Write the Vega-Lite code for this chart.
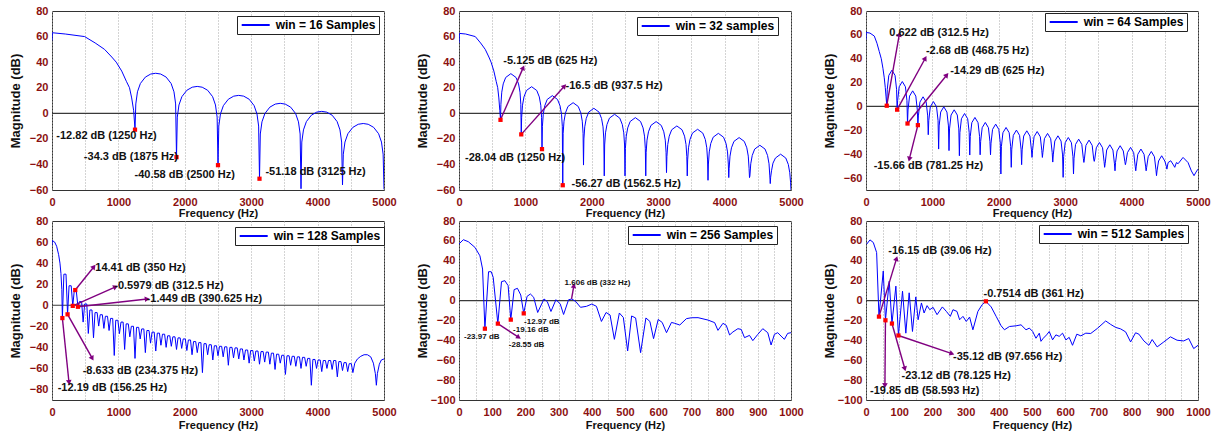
{
"$schema":"https://vega.github.io/schema/vega-lite/v6.json",
"background":"white",
"padding":{"left":8,"top":4,"right":2,"bottom":2},
"bounds":"flush",
"columns":3,
"spacing":{"row":31,"column":75},
"resolve":{"scale":{"x":"independent","y":"independent","color":"independent"},"legend":{"color":"independent"}},
"config":{
 "font":"Liberation Sans",
 "view":{"stroke":"#333333","strokeWidth":1},
 "axis":{"labelFont":"Liberation Sans","labelFontSize":11,"labelFontWeight":"bold","labelColor":"#8b1010","titleFont":"Liberation Sans","titleFontWeight":"bold","titleColor":"#111111","gridColor":"#a8a8a8","gridDash":[1,2],"gridWidth":1,"domain":false,"ticks":false,"labelPadding":4,"labelFlush":false,"labelOverlap":false},
 "axisX":{"titleFontSize":11,"labelPadding":6,"titlePadding":0},
 "axisY":{"titleFontSize":13,"minExtent":24,"maxExtent":24,"titlePadding":6}
},
"datasets":{
"p1":[{"f":0,"m":57},{"f":5,"m":63},{"f":200,"m":62},{"f":491,"m":60},{"f":650,"m":55},{"f":791,"m":50},{"f":900,"m":44},{"f":967,"m":40},{"f":1050,"m":33},{"f":1120,"m":25},{"f":1167,"m":20},{"f":1200,"m":12},{"f":1230,"m":2},{"f":1250,"m":-12.82},
{"f":1262,"m":7.3},{"f":1287,"m":16.8},{"f":1331,"m":23.3},{"f":1406,"m":28.3},{"f":1487,"m":30.7},{"f":1562,"m":31.3},{"f":1637,"m":30.7},{"f":1719,"m":28.3},{"f":1794,"m":23.3},{"f":1837,"m":16.8},{"f":1862,"m":7.3},{"f":1875,"m":-34.3},
{"f":1887,"m":-3},{"f":1912,"m":6.5},{"f":1956,"m":13},{"f":2031,"m":18},{"f":2112,"m":20.4},{"f":2187,"m":21},{"f":2262,"m":20.4},{"f":2344,"m":18},{"f":2419,"m":13},{"f":2462,"m":6.5},{"f":2487,"m":-3},{"f":2500,"m":-40.58},
{"f":2512,"m":-10},{"f":2537,"m":-0.5},{"f":2581,"m":6},{"f":2656,"m":11},{"f":2737,"m":13.4},{"f":2812,"m":14},{"f":2887,"m":13.4},{"f":2969,"m":11},{"f":3044,"m":6},{"f":3087,"m":-0.5},{"f":3112,"m":-10},{"f":3125,"m":-51.18},
{"f":3137,"m":-16.2},{"f":3162,"m":-6.7},{"f":3206,"m":-0.2},{"f":3281,"m":4.8},{"f":3362,"m":7.2},{"f":3437,"m":7.8},{"f":3512,"m":7.2},{"f":3594,"m":4.8},{"f":3669,"m":-0.2},{"f":3712,"m":-6.7},{"f":3737,"m":-16.2},{"f":3750,"m":-59},
{"f":3762,"m":-22.5},{"f":3787,"m":-13},{"f":3831,"m":-6.5},{"f":3906,"m":-1.5},{"f":3987,"m":0.9},{"f":4062,"m":1.5},{"f":4137,"m":0.9},{"f":4219,"m":-1.5},{"f":4294,"m":-6.5},{"f":4337,"m":-13},{"f":4362,"m":-22.5},{"f":4375,"m":-56},
{"f":4387,"m":-32},{"f":4412,"m":-22.5},{"f":4456,"m":-16},{"f":4531,"m":-11},{"f":4612,"m":-8.6},{"f":4687,"m":-8},{"f":4762,"m":-8.6},{"f":4844,"m":-11},{"f":4919,"m":-16},{"f":4962,"m":-22.5},{"f":4987,"m":-32},{"f":5000,"m":-59.5}],
"p2":[{"f":0,"m":55},{"f":5,"m":62.5},{"f":100,"m":62},{"f":245,"m":60},{"f":325,"m":55},{"f":395,"m":50},{"f":450,"m":44},{"f":483,"m":40},{"f":525,"m":33},{"f":560,"m":25},{"f":583,"m":20},{"f":600,"m":12},{"f":615,"m":2},{"f":625,"m":-5.125},
{"f":631,"m":7},{"f":644,"m":16.5},{"f":666,"m":23},{"f":703,"m":28},{"f":781,"m":31},{"f":859,"m":28},{"f":897,"m":23},{"f":919,"m":16.5},{"f":931,"m":7},{"f":937.5,"m":-16.5},
{"f":943.5,"m":-3.2},{"f":956.5,"m":6.3},{"f":978.5,"m":12.8},{"f":1015.5,"m":17.8},{"f":1093.5,"m":20.8},{"f":1171.5,"m":17.8},{"f":1209.5,"m":12.8},{"f":1231.5,"m":6.3},{"f":1243.5,"m":-3.2},{"f":1250,"m":-28.04},
{"f":1256,"m":-10.2},{"f":1269,"m":-0.7},{"f":1291,"m":5.8},{"f":1328,"m":10.8},{"f":1406,"m":13.8},{"f":1484,"m":10.8},{"f":1522,"m":5.8},{"f":1544,"m":-0.7},{"f":1556,"m":-10.2},{"f":1562.5,"m":-56.27},
{"f":1568.5,"m":-15.7},{"f":1581.5,"m":-6.2},{"f":1603.5,"m":0.3},{"f":1640.5,"m":5.3},{"f":1718.5,"m":8.3},{"f":1796.5,"m":5.3},{"f":1834.5,"m":0.3},{"f":1856.5,"m":-6.2},{"f":1868.5,"m":-15.7},{"f":1875,"m":-40.5},
{"f":1881,"m":-20.1},{"f":1894,"m":-10.6},{"f":1916,"m":-4.1},{"f":1953,"m":0.9},{"f":2031,"m":3.9},{"f":2109,"m":0.9},{"f":2147,"m":-4.1},{"f":2169,"m":-10.6},{"f":2181,"m":-20.1},{"f":2187.5,"m":-49},
{"f":2193.5,"m":-24.8},{"f":2206.5,"m":-15.3},{"f":2228.5,"m":-8.8},{"f":2265.5,"m":-3.8},{"f":2343.5,"m":-0.8},{"f":2421.5,"m":-3.8},{"f":2459.5,"m":-8.8},{"f":2481.5,"m":-15.3},{"f":2493.5,"m":-24.8},{"f":2500,"m":-49},
{"f":2506,"m":-27.4},{"f":2519,"m":-17.9},{"f":2541,"m":-11.4},{"f":2578,"m":-6.4},{"f":2656,"m":-3.4},{"f":2734,"m":-6.4},{"f":2772,"m":-11.4},{"f":2794,"m":-17.9},{"f":2806,"m":-27.4},{"f":2812.5,"m":-49},
{"f":2818.5,"m":-30.5},{"f":2831.5,"m":-21},{"f":2853.5,"m":-14.5},{"f":2890.5,"m":-9.5},{"f":2968.5,"m":-6.5},{"f":3046.5,"m":-9.5},{"f":3084.5,"m":-14.5},{"f":3106.5,"m":-21},{"f":3118.5,"m":-30.5},{"f":3125,"m":-46.4},
{"f":3131,"m":-33.9},{"f":3144,"m":-24.4},{"f":3166,"m":-17.9},{"f":3203,"m":-12.9},{"f":3281,"m":-9.9},{"f":3359,"m":-12.9},{"f":3397,"m":-17.9},{"f":3419,"m":-24.4},{"f":3431,"m":-33.9},{"f":3437.5,"m":-49},
{"f":3443.5,"m":-36.5},{"f":3456.5,"m":-27},{"f":3478.5,"m":-20.5},{"f":3515.5,"m":-15.5},{"f":3593.5,"m":-12.5},{"f":3671.5,"m":-15.5},{"f":3709.5,"m":-20.5},{"f":3731.5,"m":-27},{"f":3743.5,"m":-36.5},{"f":3750,"m":-52.4},
{"f":3756,"m":-39.7},{"f":3769,"m":-30.2},{"f":3791,"m":-23.7},{"f":3828,"m":-18.7},{"f":3906,"m":-15.7},{"f":3984,"m":-18.7},{"f":4022,"m":-23.7},{"f":4044,"m":-30.2},{"f":4056,"m":-39.7},{"f":4062.5,"m":-50.3},
{"f":4068.5,"m":-43},{"f":4081.5,"m":-33.5},{"f":4103.5,"m":-27},{"f":4140.5,"m":-22},{"f":4218.5,"m":-19},{"f":4296.5,"m":-22},{"f":4334.5,"m":-27},{"f":4356.5,"m":-33.5},{"f":4368.5,"m":-43},{"f":4375,"m":-50.3},
{"f":4381,"m":-49},{"f":4394,"m":-39.5},{"f":4416,"m":-33},{"f":4453,"m":-28},{"f":4531,"m":-25},{"f":4609,"m":-28},{"f":4647,"m":-33},{"f":4669,"m":-39.5},{"f":4681,"m":-49},{"f":4687.5,"m":-55},
{"f":4693.5,"m":-50},{"f":4706.5,"m":-45},{"f":4728.5,"m":-39},{"f":4765.5,"m":-35},{"f":4843.5,"m":-32},{"f":4921.5,"m":-35},{"f":4959.5,"m":-40},{"f":4981.5,"m":-46.5},{"f":4993.5,"m":-54},{"f":5000,"m":-60}],
"p3":[{"f":0,"m":56},{"f":3,"m":62},{"f":60,"m":61.5},{"f":125,"m":59},{"f":165,"m":53},{"f":200,"m":46},{"f":230,"m":40},{"f":255,"m":32},{"f":275,"m":24},{"f":290,"m":16},{"f":302,"m":8},{"f":312.5,"m":0.622},
{"f":320.5,"m":14.4},{"f":343.5,"m":26},{"f":390.5,"m":30.4},{"f":437.5,"m":26},{"f":460.5,"m":14.4},{"f":468.75,"m":-2.68},
{"f":476.75,"m":4.9},{"f":499.75,"m":16.5},{"f":546.75,"m":20.9},{"f":593.75,"m":16.5},{"f":616.75,"m":4.9},{"f":625,"m":-14.29},
{"f":633,"m":-2.9},{"f":656,"m":8.7},{"f":703,"m":13.1},{"f":750,"m":8.7},{"f":773,"m":-2.9},{"f":781.25,"m":-15.66},
{"f":789.25,"m":-7.9},{"f":812.25,"m":3.7},{"f":859.25,"m":8.1},{"f":906.25,"m":3.7},{"f":929.25,"m":-7.9},{"f":937.5,"m":-23.7},
{"f":945.5,"m":-11.9},{"f":968.5,"m":-0.3},{"f":1015.5,"m":4.1},{"f":1062.5,"m":-0.3},{"f":1085.5,"m":-11.9},{"f":1093.75,"m":-35.7},
{"f":1101.75,"m":-16.3},{"f":1124.75,"m":-4.7},{"f":1171.75,"m":-0.3},{"f":1218.75,"m":-4.7},{"f":1241.75,"m":-16.3},{"f":1250,"m":-37},
{"f":1258,"m":-18.8},{"f":1281,"m":-7.2},{"f":1328,"m":-2.8},{"f":1375,"m":-7.2},{"f":1398,"m":-18.8},{"f":1406.25,"m":-41.3},
{"f":1414.25,"m":-21.9},{"f":1437.25,"m":-10.3},{"f":1484.25,"m":-5.9},{"f":1531.25,"m":-10.3},{"f":1554.25,"m":-21.9},{"f":1562.5,"m":-40.7},
{"f":1570.5,"m":-25.2},{"f":1593.5,"m":-13.6},{"f":1640.5,"m":-9.2},{"f":1687.5,"m":-13.6},{"f":1710.5,"m":-25.2},{"f":1718.75,"m":-40.5},
{"f":1726.75,"m":-29.4},{"f":1749.75,"m":-17.8},{"f":1796.75,"m":-13.4},{"f":1843.75,"m":-17.8},{"f":1866.75,"m":-29.4},{"f":1875,"m":-40.5},
{"f":1883,"m":-30.8},{"f":1906,"m":-19.2},{"f":1953,"m":-14.8},{"f":2000,"m":-19.2},{"f":2023,"m":-30.8},{"f":2031.25,"m":-56.6},
{"f":2039.25,"m":-33.6},{"f":2062.25,"m":-22},{"f":2109.25,"m":-17.6},{"f":2156.25,"m":-22},{"f":2179.25,"m":-33.6},{"f":2187.5,"m":-51},
{"f":2195.5,"m":-35.8},{"f":2218.5,"m":-24.2},{"f":2265.5,"m":-19.8},{"f":2312.5,"m":-24.2},{"f":2335.5,"m":-35.8},{"f":2343.75,"m":-48.8},
{"f":2351.75,"m":-36.4},{"f":2374.75,"m":-24.8},{"f":2421.75,"m":-20.4},{"f":2468.75,"m":-24.8},{"f":2491.75,"m":-36.4},{"f":2500,"m":-42.7},
{"f":2508,"m":-37},{"f":2531,"m":-25.4},{"f":2578,"m":-21},{"f":2625,"m":-25.4},{"f":2648,"m":-37},{"f":2656.25,"m":-42.7},
{"f":2664.25,"m":-38.6},{"f":2687.25,"m":-27},{"f":2734.25,"m":-22.6},{"f":2781.25,"m":-27},{"f":2804.25,"m":-38.6},{"f":2812.5,"m":-46.6},
{"f":2820.5,"m":-40.6},{"f":2843.5,"m":-29},{"f":2890.5,"m":-24.6},{"f":2937.5,"m":-29},{"f":2960.5,"m":-40.6},{"f":2968.75,"m":-59.4},
{"f":2976.75,"m":-42},{"f":2999.75,"m":-30.4},{"f":3046.75,"m":-26},{"f":3093.75,"m":-30.4},{"f":3116.75,"m":-42},{"f":3125,"m":-56.6},
{"f":3133,"m":-43.4},{"f":3156,"m":-31.8},{"f":3203,"m":-27.4},{"f":3250,"m":-31.8},{"f":3273,"m":-43.4},{"f":3281.25,"m":-46.9},
{"f":3289.25,"m":-44},{"f":3312.25,"m":-32.6},{"f":3359.25,"m":-28.2},{"f":3406.25,"m":-32.6},{"f":3429.25,"m":-44},{"f":3437.5,"m":-46},
{"f":3445.5,"m":-44},{"f":3468.5,"m":-34.6},{"f":3515.5,"m":-30.2},{"f":3562.5,"m":-34.6},{"f":3585.5,"m":-46.2},{"f":3593.75,"m":-51},
{"f":3601.75,"m":-48},{"f":3624.75,"m":-36.5},{"f":3671.75,"m":-32.1},{"f":3718.75,"m":-36.5},{"f":3741.75,"m":-48},{"f":3750,"m":-53.9},
{"f":3758,"m":-47},{"f":3781,"m":-37.3},{"f":3828,"m":-32.9},{"f":3875,"m":-37.3},{"f":3898,"m":-46},{"f":3906.25,"m":-48.8},
{"f":3914.25,"m":-47},{"f":3937.25,"m":-38.7},{"f":3984.25,"m":-34.3},{"f":4031.25,"m":-38.7},{"f":4054.25,"m":-50},{"f":4062.5,"m":-53.9},
{"f":4070.5,"m":-50},{"f":4093.5,"m":-40.1},{"f":4140.5,"m":-35.7},{"f":4187.5,"m":-40.1},{"f":4210.5,"m":-50},{"f":4218.75,"m":-53.9},
{"f":4226.75,"m":-51},{"f":4249.75,"m":-42.1},{"f":4296.75,"m":-37.7},{"f":4343.75,"m":-42.1},{"f":4366.75,"m":-53},{"f":4375,"m":-58},
{"f":4383,"m":-54},{"f":4406,"m":-45.7},{"f":4453,"m":-41.3},{"f":4500,"m":-45.7},{"f":4523,"m":-50},{"f":4531.25,"m":-52.5},
{"f":4550,"m":-47},{"f":4590,"m":-45.5},{"f":4630,"m":-49},{"f":4650,"m":-51},{"f":4675,"m":-47},{"f":4700,"m":-48},{"f":4775,"m":-42.7},{"f":4850,"m":-47},{"f":4900,"m":-54},{"f":4940,"m":-58},{"f":4970,"m":-55},{"f":5000,"m":-52.5}],
"p4":[{"f":0,"m":57},{"f":3,"m":61.5},{"f":40,"m":60},{"f":70,"m":56},{"f":100,"m":48},{"f":120,"m":40},{"f":135,"m":30},{"f":148,"m":15},{"f":156.25,"m":-12.19},
{"f":179,"m":29.5},{"f":211,"m":29.5},{"f":234.375,"m":-8.633},
{"f":257,"m":18.5},{"f":289,"m":18.5},{"f":312.5,"m":-0.5979},
{"f":335,"m":13.5},{"f":350,"m":14.41},{"f":367,"m":13},{"f":390.625,"m":-1.449},
{"f":414,"m":3.5},{"f":446,"m":3.5},{"f":468.75,"m":-16},
{"f":492,"m":1.2},{"f":524,"m":1.2},{"f":546.875,"m":-26.8},
{"f":570,"m":-4.5},{"f":602,"m":-4.5},{"f":625,"m":-30.9},
{"f":648,"m":-7},{"f":680,"m":-7},{"f":703.125,"m":-19.8},
{"f":726,"m":-9},{"f":758,"m":-9},{"f":781.25,"m":-22},
{"f":804,"m":-10.5},{"f":836,"m":-10.5},{"f":859.375,"m":-24},
{"f":882,"m":-12.5},{"f":914,"m":-12.5},{"f":937.5,"m":-47.7},
{"f":960,"m":-14.3},{"f":992,"m":-14.3},{"f":1015.6,"m":-27},
{"f":1039,"m":-16},{"f":1071,"m":-16},{"f":1093.75,"m":-42},
{"f":1117,"m":-17.7},{"f":1149,"m":-17.7},{"f":1171.9,"m":-30},
{"f":1195,"m":-20},{"f":1227,"m":-20},{"f":1250,"m":-50.5},
{"f":1273,"m":-21},{"f":1305,"m":-21},{"f":1328,"m":-32},
{"f":1351,"m":-22.5},{"f":1383,"m":-22.5},{"f":1406,"m":-45},
{"f":1429,"m":-24},{"f":1461,"m":-24},{"f":1484,"m":-36},
{"f":1507,"m":-25.5},{"f":1539,"m":-25.5},{"f":1562.5,"m":-43.5},
{"f":1586,"m":-26.5},{"f":1618,"m":-26.5},{"f":1640.6,"m":-38},
{"f":1664,"m":-27.5},{"f":1696,"m":-27.5},{"f":1718.75,"m":-40},
{"f":1742,"m":-29},{"f":1774,"m":-29},{"f":1796.9,"m":-39},
{"f":1820,"m":-30},{"f":1852,"m":-30},{"f":1875,"m":-42},
{"f":1898,"m":-31},{"f":1930,"m":-31},{"f":1953,"m":-41},
{"f":1976,"m":-32},{"f":2008,"m":-32},{"f":2031,"m":-43},
{"f":2054,"m":-33},{"f":2086,"m":-33},{"f":2109,"m":-47},
{"f":2132,"m":-34.5},{"f":2164,"m":-34.5},{"f":2187.5,"m":-45},
{"f":2211,"m":-35.5},{"f":2243,"m":-35.5},{"f":2265.6,"m":-64},
{"f":2289,"m":-36.5},{"f":2321,"m":-36.5},{"f":2343.75,"m":-47},
{"f":2367,"m":-37.5},{"f":2399,"m":-37.5},{"f":2421.9,"m":-52},
{"f":2445,"m":-38.5},{"f":2477,"m":-38.5},{"f":2500,"m":-48},
{"f":2523,"m":-39},{"f":2555,"m":-39},{"f":2578,"m":-49},
{"f":2601,"m":-39.5},{"f":2633,"m":-39.5},{"f":2656,"m":-57},
{"f":2679,"m":-40},{"f":2711,"m":-40},{"f":2734,"m":-50},
{"f":2757,"m":-40.5},{"f":2789,"m":-40.5},{"f":2812.5,"m":-51},
{"f":2836,"m":-41.5},{"f":2868,"m":-41.5},{"f":2890.6,"m":-52},
{"f":2914,"m":-42.5},{"f":2946,"m":-42.5},{"f":2968.75,"m":-55},
{"f":2992,"m":-43},{"f":3024,"m":-43},{"f":3047,"m":-53},
{"f":3070,"m":-43.5},{"f":3102,"m":-43.5},{"f":3125,"m":-56},
{"f":3148,"m":-44},{"f":3180,"m":-44},{"f":3203,"m":-54},
{"f":3226,"m":-44.5},{"f":3258,"m":-44.5},{"f":3281,"m":-56},
{"f":3304,"m":-45.5},{"f":3336,"m":-45.5},{"f":3359,"m":-61},
{"f":3382,"m":-46.5},{"f":3414,"m":-46.5},{"f":3437.5,"m":-55},
{"f":3461,"m":-47.5},{"f":3493,"m":-47.5},{"f":3515.6,"m":-65.7},
{"f":3539,"m":-48},{"f":3571,"m":-48},{"f":3593.75,"m":-57},
{"f":3617,"m":-48.5},{"f":3649,"m":-48.5},{"f":3671.9,"m":-58},
{"f":3695,"m":-49},{"f":3727,"m":-49},{"f":3750,"m":-60},
{"f":3773,"m":-49.5},{"f":3805,"m":-49.5},{"f":3828,"m":-58},
{"f":3851,"m":-50.5},{"f":3883,"m":-50.5},{"f":3906,"m":-76},
{"f":3929,"m":-51.5},{"f":3961,"m":-51.5},{"f":3984,"m":-60},
{"f":4007,"m":-52},{"f":4039,"m":-52},{"f":4062.5,"m":-63},
{"f":4086,"m":-52.5},{"f":4118,"m":-52.5},{"f":4140.6,"m":-60},
{"f":4164,"m":-52.5},{"f":4196,"m":-52.5},{"f":4218.75,"m":-61},
{"f":4242,"m":-52.5},{"f":4274,"m":-52.5},{"f":4296.9,"m":-68},
{"f":4320,"m":-53.5},{"f":4352,"m":-53.5},{"f":4375,"m":-62},
{"f":4398,"m":-54.5},{"f":4430,"m":-54.5},{"f":4453,"m":-63},
{"f":4476,"m":-55.5},{"f":4508,"m":-55.5},{"f":4531.25,"m":-64},
{"f":4560,"m":-55},{"f":4600,"m":-51},{"f":4650,"m":-48.5},{"f":4700,"m":-47},{"f":4750,"m":-47},{"f":4800,"m":-49},{"f":4840,"m":-55},{"f":4870,"m":-65},{"f":4885,"m":-76},{"f":4900,"m":-65},{"f":4930,"m":-56},{"f":4960,"m":-52},{"f":5000,"m":-51}],
"p5":[{"f":0,"m":56.9},{"f":13,"m":61.2},{"f":28,"m":59.2},{"f":48,"m":53.5},{"f":63,"m":45},{"f":71,"m":31.7},{"f":78,"m":-28.3},{"f":89,"m":29},{"f":97,"m":29},{"f":103,"m":23.4},{"f":117,"m":-23.2},{"f":128,"m":19},{"f":138,"m":20},{"f":148,"m":15},{"f":156,"m":-19.2},{"f":166,"m":11},{"f":176,"m":12.3},{"f":186,"m":5.6},{"f":195,"m":-12.9},{"f":205,"m":4.2},{"f":215,"m":6.6},{"f":225,"m":3.3},{"f":237,"m":-12},{"f":256,"m":1.6},{"f":266,"m":-1.1},{"f":277,"m":-11},{"f":292,"m":0.9},{"f":305,"m":-3.5},{"f":315,"m":-14},{"f":330,"m":0.8},{"f":340,"m":1.6},{"f":352,"m":-1.1},{"f":366,"m":-6.8},{"f":384,"m":-5.8},{"f":400,"m":-3.5},{"f":414,"m":-5.8},{"f":429,"m":-21},{"f":443,"m":-12},{"f":455,"m":-14.5},{"f":468,"m":-39},{"f":483,"m":-12.5},{"f":495,"m":-17},{"f":508,"m":-50.7},{"f":520,"m":-15.5},{"f":532,"m":-17.5},{"f":547,"m":-52.4},{"f":563,"m":-17.5},{"f":575,"m":-21},{"f":586,"m":-38.3},{"f":600,"m":-19},{"f":612,"m":-22},{"f":625,"m":-32.3},{"f":640,"m":-22},{"f":650,"m":-22.9},{"f":665,"m":-24.6},{"f":685,"m":-18.2},{"f":700,"m":-17.3},{"f":720,"m":-17.2},{"f":750,"m":-19.6},{"f":770,"m":-22.2},{"f":780,"m":-30},{"f":795,"m":-22.9},{"f":805,"m":-24.9},{"f":815,"m":-34.6},{"f":825,"m":-31.6},{"f":840,"m":-28.3},{"f":850,"m":-29},{"f":860,"m":-37.3},{"f":875,"m":-35},{"f":885,"m":-40.3},{"f":900,"m":-34},{"f":915,"m":-28.3},{"f":930,"m":-32.3},{"f":940,"m":-44.7},{"f":950,"m":-34},{"f":960,"m":-32.3},{"f":970,"m":-35.7},{"f":980,"m":-39},{"f":990,"m":-33},{"f":1000,"m":-32.3}],
"p6":[{"f":2,"m":56.7},{"f":12,"m":61},{"f":22,"m":58.4},{"f":32,"m":48.3},{"f":39.06,"m":-16.15},{"f":52,"m":29.7},{"f":58.593,"m":-19.85},{"f":70,"m":19.5},{"f":78.125,"m":-23.12},{"f":90,"m":14.5},{"f":97.656,"m":-35.12},{"f":110,"m":9.4},{"f":120,"m":-32.8},{"f":130,"m":7.8},{"f":140,"m":-31.1},{"f":150,"m":3.7},{"f":157,"m":-19.3},{"f":167,"m":-2.4},{"f":175,"m":-12.5},{"f":184,"m":-5.1},{"f":192,"m":-9.2},{"f":202,"m":-6.8},{"f":214,"m":-14.2},{"f":230,"m":-6.4},{"f":242,"m":-10.9},{"f":254,"m":-15.9},{"f":262,"m":-9.2},{"f":274,"m":-10.9},{"f":282,"m":-19.3},{"f":292,"m":-15.9},{"f":302,"m":-21},{"f":312,"m":-16.6},{"f":322,"m":-29.4},{"f":337,"m":-10.9},{"f":350,"m":-4.1},{"f":361,"m":-0.7514},{"f":377,"m":-6.4},{"f":392,"m":-15.9},{"f":407,"m":-25.4},{"f":417,"m":-29.4},{"f":432,"m":-26.1},{"f":452,"m":-25.4},{"f":467,"m":-24.4},{"f":482,"m":-29.4},{"f":492,"m":-27.7},{"f":502,"m":-31.1},{"f":512,"m":-37.9},{"f":522,"m":-32.8},{"f":527,"m":-41},{"f":534,"m":-37.9},{"f":544,"m":-34.5},{"f":552,"m":-31.1},{"f":562,"m":-39.5},{"f":572,"m":-34.5},{"f":582,"m":-36},{"f":592,"m":-32.8},{"f":602,"m":-39.6},{"f":612,"m":-37},{"f":622,"m":-45},{"f":635,"m":-33.8},{"f":647,"m":-35.5},{"f":662,"m":-32.8},{"f":677,"m":-33.1},{"f":697,"m":-28},{"f":722,"m":-20.5},{"f":737,"m":-24},{"f":752,"m":-27},{"f":767,"m":-28.5},{"f":782,"m":-31.5},{"f":797,"m":-41.6},{"f":812,"m":-32.4},{"f":822,"m":-33.8},{"f":837,"m":-40.6},{"f":852,"m":-45},{"f":862,"m":-39.2},{"f":877,"m":-46.6},{"f":897,"m":-41.6},{"f":917,"m":-36.5},{"f":937,"m":-39.9},{"f":957,"m":-40.6},{"f":972,"m":-38.2},{"f":987,"m":-48.3},{"f":1000,"m":-45}],
"d1":[{"f":1250,"m":-12.82},{"f":1875,"m":-34.3},{"f":2500,"m":-40.58},{"f":3125,"m":-51.18}],
"t1":[{"f":65,"m":-17.8,"t":"-12.82 dB (1250 Hz)"},{"f":480,"m":-34,"t":"-34.3 dB (1875 Hz)"},{"f":1243,"m":-48.3,"t":"-40.58 dB (2500 Hz)"},{"f":3214,"m":-45.7,"t":"-51.18 dB (3125 Hz)"}],
"d2":[{"f":625,"m":-5.125},{"f":937.5,"m":-16.5},{"f":1250,"m":-28.04},{"f":1562.5,"m":-56.27}],
"t2":[{"f":667,"m":40.9,"t":"-5.125 dB (625 Hz)"},{"f":1604,"m":21.3,"t":"-16.5 dB (937.5 Hz)"},{"f":90,"m":-34.7,"t":"-28.04 dB (1250 Hz)"},{"f":1694,"m":-55,"t":"-56.27 dB (1562.5 Hz)"}],
"a2":[{"f":625,"m":-5.125,"f2":967,"m2":35.7},{"f":937.5,"m":-16.5,"f2":1589,"m2":21.3}],
"d3":[{"f":312.5,"m":0.622},{"f":468.75,"m":-2.68},{"f":625,"m":-14.29},{"f":781.25,"m":-15.66}],
"t3":[{"f":351,"m":61.3,"t":"0.622 dB (312.5 Hz)"},{"f":902,"m":46.5,"t":"-2.68 dB (468.75 Hz)"},{"f":1268,"m":29.8,"t":"-14.29 dB (625 Hz)"},{"f":116,"m":-49.7,"t":"-15.66 dB (781.25 Hz)"}],
"a3":[{"f":312.5,"m":0.622,"f2":502,"m2":60.5},{"f":468.75,"m":-2.68,"f2":893,"m2":40.4},{"f":625,"m":-14.29,"f2":1217,"m2":26.4},{"f":781.25,"m":-15.66,"f2":652,"m2":-44.1}],
"d4":[{"f":156.25,"m":-12.19},{"f":234.375,"m":-8.633},{"f":312.5,"m":-0.5979},{"f":350,"m":14.41},{"f":390.625,"m":-1.449}],
"t4":[{"f":652,"m":35.6,"t":"14.41 dB (350 Hz)"},{"f":938,"m":18.2,"t":"-0.5979 dB (312.5 Hz)"},{"f":1425,"m":5.6,"t":"-1.449 dB (390.625 Hz)"},{"f":462,"m":-62,"t":"-8.633 dB (234.375 Hz)"},{"f":86,"m":-78.5,"t":"-12.19 dB (156.25 Hz)"}],
"a4":[{"f":350,"m":14.41,"f2":632,"m2":36.6},{"f":312.5,"m":-0.5979,"f2":958,"m2":17.5},{"f":390.625,"m":-1.449,"f2":1434,"m2":5.9},{"f":234.375,"m":-8.633,"f2":607,"m2":-50.5},{"f":156.25,"m":-12.19,"f2":256,"m2":-73.4}],
"d5":[{"f":78,"m":-28.3},{"f":117,"m":-23.2},{"f":156,"m":-19.2},{"f":195,"m":-12.9}],
"t5":[{"f":15,"m":-37,"t":"-23.97 dB"},{"f":150,"m":-44.7,"t":"-28.55 dB"},{"f":163,"m":-29.5,"t":"-19.16 dB"},{"f":196,"m":-21.4,"t":"-12.97 dB"},{"f":318,"m":17.3,"t":"1.606 dB (332 Hz)"}],
"a5":[{"f":117,"m":-23.2,"f2":180,"m2":-37},{"f":339,"m":1.6,"f2":346,"m2":15}],
"d6":[{"f":39.06,"m":-16.15},{"f":58.593,"m":-19.85},{"f":78.125,"m":-23.12},{"f":97.656,"m":-35.12},{"f":361,"m":-0.7514}],
"t6":[{"f":67,"m":50.3,"t":"-16.15 dB (39.06 Hz)"},{"f":354,"m":6.4,"t":"-0.7514 dB (361 Hz)"},{"f":262,"m":-56.8,"t":"-35.12 dB (97.656 Hz)"},{"f":107,"m":-76.3,"t":"-23.12 dB (78.125 Hz)"},{"f":12,"m":-90.5,"t":"-19.85 dB (58.593 Hz)"}],
"a6":[{"f":39.06,"m":-16.15,"f2":92,"m2":42.2},{"f":58.593,"m":-19.85,"f2":57,"m2":-85.5},{"f":78.125,"m":-23.12,"f2":117,"m2":-68.6},{"f":97.656,"m":-35.12,"f2":259,"m2":-53.4}]
},
"concat":[
{"width":332,"height":179,"layer":[
 {"data":{"values":[{}]},"mark":{"type":"rule","color":"#3a3a3a","strokeWidth":1.2},"encoding":{"y":{"datum":0,"type":"quantitative"}}},
 {"data":{"name":"p1"},"mark":{"type":"line","strokeWidth":1,"clip":true},"encoding":{
  "x":{"field":"f","type":"quantitative","title":"Frequency (Hz)","scale":{"domain":[0,5000],"nice":false,"zero":false},"axis":{"values":[0,500,1000,1500,2000,2500,3000,3500,4000,4500,5000],"tickCount":100,"format":"d","labelOverlap":false,"labelExpr":"datum.value % 1000 === 0 ? datum.label : ''"}},
  "y":{"field":"m","type":"quantitative","title":"Magnitude (dB)","scale":{"domain":[-60,80],"nice":false,"zero":false},"axis":{"values":[-60,-50,-40,-30,-20,-10,0,10,20,30,40,50,60,70,80],"tickCount":100,"format":"d","labelOverlap":false,"labelExpr":"datum.value % 20 === 0 ? datum.label : ''"}},
  "color":{"datum":"win = 16 Samples","type":"nominal","scale":{"range":["#0000ff"]},"legend":{"title":null,"orient":"none","legendX":185,"legendY":5,"symbolType":"M-4,0H4","symbolSize":49,"symbolStrokeWidth":2,"symbolOffset":9.7,"labelOffset":14,"labelFontSize":12,"labelFontWeight":"bold","labelFont":"Liberation Sans","labelColor":"black","fillColor":"white","strokeColor":"#222222","padding":3,"labelLimit":400}}}},
 {"data":{"name":"d1"},"mark":{"type":"point","shape":"square","filled":true,"color":"#ff0000","size":18,"opacity":1},"encoding":{"x":{"field":"f","type":"quantitative","title":"Frequency (Hz)"},"y":{"field":"m","type":"quantitative","title":"Magnitude (dB)"}}},
 {"data":{"name":"t1"},"mark":{"type":"text","align":"left","baseline":"middle","fontWeight":"bold","fontSize":11,"font":"Liberation Sans","color":"#111111"},"encoding":{"x":{"field":"f","type":"quantitative","title":"Frequency (Hz)"},"y":{"field":"m","type":"quantitative","title":"Magnitude (dB)"},"text":{"field":"t"}}}
]},
{"width":332,"height":179,"layer":[
 {"data":{"values":[{}]},"mark":{"type":"rule","color":"#3a3a3a","strokeWidth":1.2},"encoding":{"y":{"datum":0,"type":"quantitative"}}},
 {"data":{"name":"p2"},"mark":{"type":"line","strokeWidth":1,"clip":true},"encoding":{
  "x":{"field":"f","type":"quantitative","title":"Frequency (Hz)","scale":{"domain":[0,5000],"nice":false,"zero":false},"axis":{"values":[0,500,1000,1500,2000,2500,3000,3500,4000,4500,5000],"tickCount":100,"format":"d","labelOverlap":false,"labelExpr":"datum.value % 1000 === 0 ? datum.label : ''"}},
  "y":{"field":"m","type":"quantitative","title":"Magnitude (dB)","scale":{"domain":[-60,80],"nice":false,"zero":false},"axis":{"values":[-60,-50,-40,-30,-20,-10,0,10,20,30,40,50,60,70,80],"tickCount":100,"format":"d","labelOverlap":false,"labelExpr":"datum.value % 20 === 0 ? datum.label : ''"}},
  "color":{"datum":"win = 32 samples","type":"nominal","scale":{"range":["#0000ff"]},"legend":{"title":null,"orient":"none","legendX":178,"legendY":6,"symbolType":"M-4,0H4","symbolSize":49,"symbolStrokeWidth":2,"symbolOffset":9.7,"labelOffset":14,"labelFontSize":12,"labelFontWeight":"bold","labelFont":"Liberation Sans","labelColor":"black","fillColor":"white","strokeColor":"#222222","padding":3,"labelLimit":400}}}},
 {"data":{"name":"a2"},"mark":{"type":"rule","color":"#800080","strokeWidth":1.4},"encoding":{"x":{"field":"f","type":"quantitative","title":"Frequency (Hz)"},"y":{"field":"m","type":"quantitative","title":"Magnitude (dB)"},"x2":{"field":"f2"},"y2":{"field":"m2"}}},
 {"data":{"name":"a2"},"transform":[{"calculate":"atan2((datum.f2-datum.f)*0.06646,(datum.m2-datum.m)*1.2786)*180/PI","as":"ang"}],"mark":{"type":"point","shape":"triangle-up","filled":true,"color":"#800080","size":32,"opacity":1},"encoding":{"x":{"field":"f2","type":"quantitative","title":"Frequency (Hz)"},"y":{"field":"m2","type":"quantitative","title":"Magnitude (dB)"},"angle":{"field":"ang","type":"quantitative","scale":null}}},
 {"data":{"name":"d2"},"mark":{"type":"point","shape":"square","filled":true,"color":"#ff0000","size":18,"opacity":1},"encoding":{"x":{"field":"f","type":"quantitative","title":"Frequency (Hz)"},"y":{"field":"m","type":"quantitative","title":"Magnitude (dB)"}}},
 {"data":{"name":"t2"},"mark":{"type":"text","align":"left","baseline":"middle","fontWeight":"bold","fontSize":11,"font":"Liberation Sans","color":"#111111"},"encoding":{"x":{"field":"f","type":"quantitative","title":"Frequency (Hz)"},"y":{"field":"m","type":"quantitative","title":"Magnitude (dB)"},"text":{"field":"t"}}}
]},
{"width":332,"height":179,"layer":[
 {"data":{"values":[{}]},"mark":{"type":"rule","color":"#3a3a3a","strokeWidth":1.2},"encoding":{"y":{"datum":0,"type":"quantitative"}}},
 {"data":{"name":"p3"},"mark":{"type":"line","strokeWidth":1,"clip":true},"encoding":{
  "x":{"field":"f","type":"quantitative","title":"Frequency (Hz)","scale":{"domain":[0,5000],"nice":false,"zero":false},"axis":{"values":[0,500,1000,1500,2000,2500,3000,3500,4000,4500,5000],"tickCount":100,"format":"d","labelOverlap":false,"labelExpr":"datum.value % 1000 === 0 ? datum.label : ''"}},
  "y":{"field":"m","type":"quantitative","title":"Magnitude (dB)","scale":{"domain":[-70,80],"nice":false,"zero":false},"axis":{"values":[-70,-60,-50,-40,-30,-20,-10,0,10,20,30,40,50,60,70,80],"tickCount":100,"format":"d","labelOverlap":false,"labelExpr":"datum.value % 20 === 0 ? datum.label : ''"}},
  "color":{"datum":"win = 64 Samples","type":"nominal","scale":{"range":["#0000ff"]},"legend":{"title":null,"orient":"none","legendX":179,"legendY":2,"symbolType":"M-4,0H4","symbolSize":49,"symbolStrokeWidth":2,"symbolOffset":9.7,"labelOffset":14,"labelFontSize":12,"labelFontWeight":"bold","labelFont":"Liberation Sans","labelColor":"black","fillColor":"white","strokeColor":"#222222","padding":3,"labelLimit":400}}}},
 {"data":{"name":"a3"},"mark":{"type":"rule","color":"#800080","strokeWidth":1.4},"encoding":{"x":{"field":"f","type":"quantitative","title":"Frequency (Hz)"},"y":{"field":"m","type":"quantitative","title":"Magnitude (dB)"},"x2":{"field":"f2"},"y2":{"field":"m2"}}},
 {"data":{"name":"a3"},"transform":[{"calculate":"atan2((datum.f2-datum.f)*0.06646,(datum.m2-datum.m)*1.1933)*180/PI","as":"ang"}],"mark":{"type":"point","shape":"triangle-up","filled":true,"color":"#800080","size":32,"opacity":1},"encoding":{"x":{"field":"f2","type":"quantitative","title":"Frequency (Hz)"},"y":{"field":"m2","type":"quantitative","title":"Magnitude (dB)"},"angle":{"field":"ang","type":"quantitative","scale":null}}},
 {"data":{"name":"d3"},"mark":{"type":"point","shape":"square","filled":true,"color":"#ff0000","size":18,"opacity":1},"encoding":{"x":{"field":"f","type":"quantitative","title":"Frequency (Hz)"},"y":{"field":"m","type":"quantitative","title":"Magnitude (dB)"}}},
 {"data":{"name":"t3"},"mark":{"type":"text","align":"left","baseline":"middle","fontWeight":"bold","fontSize":11,"font":"Liberation Sans","color":"#111111"},"encoding":{"x":{"field":"f","type":"quantitative","title":"Frequency (Hz)"},"y":{"field":"m","type":"quantitative","title":"Magnitude (dB)"},"text":{"field":"t"}}}
]},
{"width":332,"height":179,"layer":[
 {"data":{"values":[{}]},"mark":{"type":"rule","color":"#3a3a3a","strokeWidth":1.2},"encoding":{"y":{"datum":0,"type":"quantitative"}}},
 {"data":{"name":"p4"},"mark":{"type":"line","strokeWidth":1,"clip":true},"encoding":{
  "x":{"field":"f","type":"quantitative","title":"Frequency (Hz)","scale":{"domain":[0,5000],"nice":false,"zero":false},"axis":{"values":[0,500,1000,1500,2000,2500,3000,3500,4000,4500,5000],"tickCount":100,"format":"d","labelOverlap":false,"titlePadding":2,"labelExpr":"datum.value % 1000 === 0 ? datum.label : ''"}},
  "y":{"field":"m","type":"quantitative","title":"Magnitude (dB)","scale":{"domain":[-90,80],"nice":false,"zero":false},"axis":{"values":[-90,-80,-70,-60,-50,-40,-30,-20,-10,0,10,20,30,40,50,60,70,80],"tickCount":100,"format":"d","labelOverlap":false,"labelExpr":"datum.value % 20 === 0 ? datum.label : ''"}},
  "color":{"datum":"win = 128 Samples","type":"nominal","scale":{"range":["#0000ff"]},"legend":{"title":null,"orient":"none","legendX":183,"legendY":6,"symbolType":"M-4,0H4","symbolSize":49,"symbolStrokeWidth":2,"symbolOffset":9.7,"labelOffset":14,"labelFontSize":12,"labelFontWeight":"bold","labelFont":"Liberation Sans","labelColor":"black","fillColor":"white","strokeColor":"#222222","padding":3,"labelLimit":400}}}},
 {"data":{"name":"a4"},"mark":{"type":"rule","color":"#800080","strokeWidth":1.4},"encoding":{"x":{"field":"f","type":"quantitative","title":"Frequency (Hz)"},"y":{"field":"m","type":"quantitative","title":"Magnitude (dB)"},"x2":{"field":"f2"},"y2":{"field":"m2"}}},
 {"data":{"name":"a4"},"transform":[{"calculate":"atan2((datum.f2-datum.f)*0.06646,(datum.m2-datum.m)*1.0529)*180/PI","as":"ang"}],"mark":{"type":"point","shape":"triangle-up","filled":true,"color":"#800080","size":32,"opacity":1},"encoding":{"x":{"field":"f2","type":"quantitative","title":"Frequency (Hz)"},"y":{"field":"m2","type":"quantitative","title":"Magnitude (dB)"},"angle":{"field":"ang","type":"quantitative","scale":null}}},
 {"data":{"name":"d4"},"mark":{"type":"point","shape":"square","filled":true,"color":"#ff0000","size":18,"opacity":1},"encoding":{"x":{"field":"f","type":"quantitative","title":"Frequency (Hz)"},"y":{"field":"m","type":"quantitative","title":"Magnitude (dB)"}}},
 {"data":{"name":"t4"},"mark":{"type":"text","align":"left","baseline":"middle","fontWeight":"bold","fontSize":11,"font":"Liberation Sans","color":"#111111"},"encoding":{"x":{"field":"f","type":"quantitative","title":"Frequency (Hz)"},"y":{"field":"m","type":"quantitative","title":"Magnitude (dB)"},"text":{"field":"t"}}}
]},
{"width":332,"height":179,"layer":[
 {"data":{"values":[{}]},"mark":{"type":"rule","color":"#3a3a3a","strokeWidth":1.2},"encoding":{"y":{"datum":0,"type":"quantitative"}}},
 {"data":{"name":"p5"},"mark":{"type":"line","strokeWidth":1,"clip":true},"encoding":{
  "x":{"field":"f","type":"quantitative","title":"Frequency (Hz)","scale":{"domain":[0,1000],"nice":false,"zero":false},"axis":{"values":[0,50,100,150,200,250,300,350,400,450,500,550,600,650,700,750,800,850,900,950,1000],"tickCount":100,"format":"d","labelOverlap":false,"titlePadding":2,"labelExpr":"datum.value % 100 === 0 ? datum.label : ''"}},
  "y":{"field":"m","type":"quantitative","title":"Magnitude (dB)","scale":{"domain":[-100,80],"nice":false,"zero":false},"axis":{"values":[-100,-90,-80,-70,-60,-50,-40,-30,-20,-10,0,10,20,30,40,50,60,70,80],"tickCount":100,"format":"d","labelOverlap":false,"labelExpr":"datum.value % 20 === 0 ? datum.label : ''"}},
  "color":{"datum":"win = 256 Samples","type":"nominal","scale":{"range":["#0000ff"]},"legend":{"title":null,"orient":"none","legendX":169,"legendY":5,"symbolType":"M-4,0H4","symbolSize":49,"symbolStrokeWidth":2,"symbolOffset":9.7,"labelOffset":14,"labelFontSize":12,"labelFontWeight":"bold","labelFont":"Liberation Sans","labelColor":"black","fillColor":"white","strokeColor":"#222222","padding":3,"labelLimit":400}}}},
 {"data":{"name":"a5"},"mark":{"type":"rule","color":"#800080","strokeWidth":1.4},"encoding":{"x":{"field":"f","type":"quantitative","title":"Frequency (Hz)"},"y":{"field":"m","type":"quantitative","title":"Magnitude (dB)"},"x2":{"field":"f2"},"y2":{"field":"m2"}}},
 {"data":{"name":"a5"},"transform":[{"calculate":"atan2((datum.f2-datum.f)*0.332,(datum.m2-datum.m)*0.9944)*180/PI","as":"ang"}],"mark":{"type":"point","shape":"triangle-up","filled":true,"color":"#800080","size":30,"opacity":1},"encoding":{"x":{"field":"f2","type":"quantitative","title":"Frequency (Hz)"},"y":{"field":"m2","type":"quantitative","title":"Magnitude (dB)"},"angle":{"field":"ang","type":"quantitative","scale":null}}},
 {"data":{"name":"d5"},"mark":{"type":"point","shape":"square","filled":true,"color":"#ff0000","size":18,"opacity":1},"encoding":{"x":{"field":"f","type":"quantitative","title":"Frequency (Hz)"},"y":{"field":"m","type":"quantitative","title":"Magnitude (dB)"}}},
 {"data":{"name":"t5"},"mark":{"type":"text","align":"left","baseline":"middle","fontWeight":"bold","fontSize":8,"font":"Liberation Sans","color":"#111111"},"encoding":{"x":{"field":"f","type":"quantitative","title":"Frequency (Hz)"},"y":{"field":"m","type":"quantitative","title":"Magnitude (dB)"},"text":{"field":"t"}}}
]},
{"width":332,"height":179,"layer":[
 {"data":{"values":[{}]},"mark":{"type":"rule","color":"#3a3a3a","strokeWidth":1.2},"encoding":{"y":{"datum":0,"type":"quantitative"}}},
 {"data":{"name":"p6"},"mark":{"type":"line","strokeWidth":1,"clip":true},"encoding":{
  "x":{"field":"f","type":"quantitative","title":"Frequency (Hz)","scale":{"domain":[0,1000],"nice":false,"zero":false},"axis":{"values":[0,50,100,150,200,250,300,350,400,450,500,550,600,650,700,750,800,850,900,950,1000],"tickCount":100,"format":"d","labelOverlap":false,"titlePadding":2,"labelExpr":"datum.value % 100 === 0 ? datum.label : ''"}},
  "y":{"field":"m","type":"quantitative","title":"Magnitude (dB)","scale":{"domain":[-100,80],"nice":false,"zero":false},"axis":{"values":[-100,-90,-80,-70,-60,-50,-40,-30,-20,-10,0,10,20,30,40,50,60,70,80],"tickCount":100,"format":"d","labelOverlap":false,"labelExpr":"datum.value % 20 === 0 ? datum.label : ''"}},
  "color":{"datum":"win = 512 Samples","type":"nominal","scale":{"range":["#0000ff"]},"legend":{"title":null,"orient":"none","legendX":173,"legendY":4,"symbolType":"M-4,0H4","symbolSize":49,"symbolStrokeWidth":2,"symbolOffset":9.7,"labelOffset":14,"labelFontSize":12,"labelFontWeight":"bold","labelFont":"Liberation Sans","labelColor":"black","fillColor":"white","strokeColor":"#222222","padding":3,"labelLimit":400}}}},
 {"data":{"name":"a6"},"mark":{"type":"rule","color":"#800080","strokeWidth":1.4},"encoding":{"x":{"field":"f","type":"quantitative","title":"Frequency (Hz)"},"y":{"field":"m","type":"quantitative","title":"Magnitude (dB)"},"x2":{"field":"f2"},"y2":{"field":"m2"}}},
 {"data":{"name":"a6"},"transform":[{"calculate":"atan2((datum.f2-datum.f)*0.332,(datum.m2-datum.m)*0.9944)*180/PI","as":"ang"}],"mark":{"type":"point","shape":"triangle-up","filled":true,"color":"#800080","size":32,"opacity":1},"encoding":{"x":{"field":"f2","type":"quantitative","title":"Frequency (Hz)"},"y":{"field":"m2","type":"quantitative","title":"Magnitude (dB)"},"angle":{"field":"ang","type":"quantitative","scale":null}}},
 {"data":{"name":"d6"},"mark":{"type":"point","shape":"square","filled":true,"color":"#ff0000","size":18,"opacity":1},"encoding":{"x":{"field":"f","type":"quantitative","title":"Frequency (Hz)"},"y":{"field":"m","type":"quantitative","title":"Magnitude (dB)"}}},
 {"data":{"name":"t6"},"mark":{"type":"text","align":"left","baseline":"middle","fontWeight":"bold","fontSize":11,"font":"Liberation Sans","color":"#111111"},"encoding":{"x":{"field":"f","type":"quantitative","title":"Frequency (Hz)"},"y":{"field":"m","type":"quantitative","title":"Magnitude (dB)"},"text":{"field":"t"}}}
]}
]
}
